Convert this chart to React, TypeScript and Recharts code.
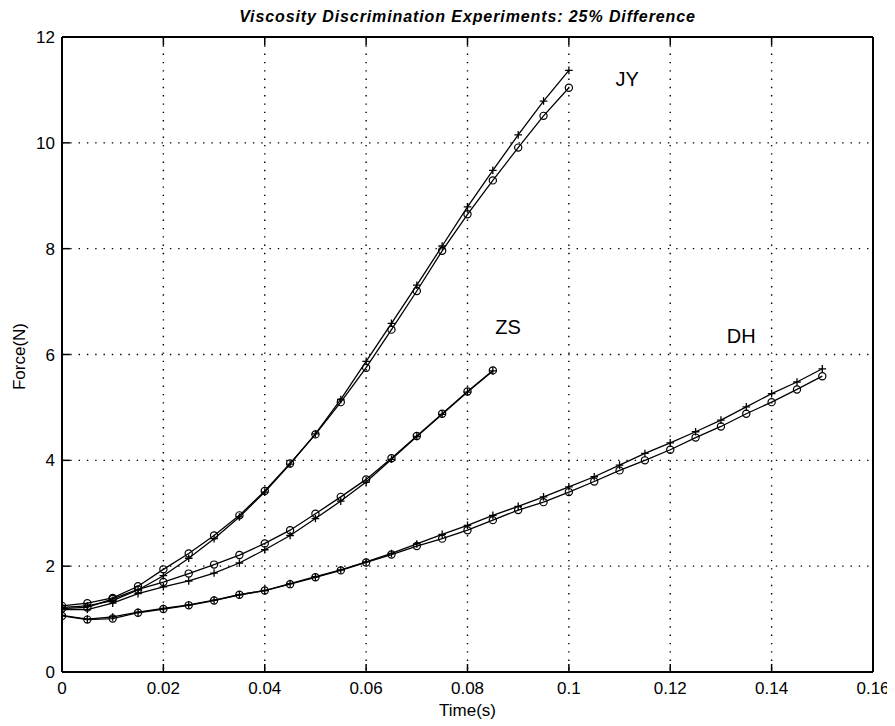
import React from 'react';
import { LineChart, Line, XAxis, YAxis, CartesianGrid, ReferenceDot } from 'recharts';

// time samples (s)
const TIME = [0, 0.005, 0.01, 0.015, 0.02, 0.025, 0.03, 0.035, 0.04, 0.045, 0.05, 0.055, 0.06, 0.065, 0.07, 0.075, 0.08, 0.085, 0.09, 0.095, 0.1, 0.105, 0.11, 0.115, 0.12, 0.125, 0.13, 0.135, 0.14, 0.145, 0.15];

// Force (N) per subject, "+" and "o" trials
const JY_PLUS = [1.22, 1.25, 1.35, 1.55, 1.82, 2.15, 2.52, 2.93, 3.40, 3.93, 4.50, 5.15, 5.87, 6.59, 7.31, 8.05, 8.79, 9.48, 10.15, 10.79, 11.37];
const JY_CIRCLE = [1.25, 1.30, 1.40, 1.62, 1.94, 2.24, 2.58, 2.96, 3.42, 3.94, 4.49, 5.10, 5.75, 6.47, 7.20, 7.96, 8.65, 9.29, 9.91, 10.51, 11.04];
const ZS_PLUS = [1.18, 1.18, 1.30, 1.48, 1.61, 1.72, 1.87, 2.06, 2.31, 2.58, 2.90, 3.23, 3.59, 4.02, 4.45, 4.87, 5.29, 5.69];
const ZS_CIRCLE = [1.20, 1.22, 1.38, 1.56, 1.70, 1.86, 2.03, 2.21, 2.43, 2.68, 2.99, 3.31, 3.64, 4.04, 4.46, 4.88, 5.30, 5.70];
const DH_PLUS = [1.07, 1.00, 1.04, 1.13, 1.20, 1.27, 1.36, 1.46, 1.54, 1.67, 1.80, 1.93, 2.08, 2.24, 2.42, 2.60, 2.77, 2.96, 3.13, 3.31, 3.50, 3.69, 3.91, 4.13, 4.33, 4.54, 4.76, 5.01, 5.26, 5.48, 5.73];
const DH_CIRCLE = [1.06, 0.99, 1.01, 1.12, 1.19, 1.26, 1.35, 1.46, 1.54, 1.66, 1.79, 1.92, 2.07, 2.22, 2.38, 2.52, 2.68, 2.87, 3.06, 3.21, 3.40, 3.60, 3.81, 4.00, 4.20, 4.43, 4.64, 4.88, 5.10, 5.34, 5.59];

const X_TICKS = [0, 0.02, 0.04, 0.06, 0.08, 0.1, 0.12, 0.14, 0.16];
const Y_TICKS = [0, 2, 4, 6, 8, 10, 12];

const SUBJECT_LABELS = [
  { text: 'JY', t: 0.1115, f: 11.2 },
  { text: 'ZS', t: 0.088, f: 6.53 },
  { text: 'DH', t: 0.134, f: 6.36 },
];

const TITLE = 'Viscosity Discrimination Experiments: 25% Difference';

const rows = TIME.map((t, i) => ({
  t,
  jyPlus: JY_PLUS[i],
  jyCircle: JY_CIRCLE[i],
  zsPlus: ZS_PLUS[i],
  zsCircle: ZS_CIRCLE[i],
  dhPlus: DH_PLUS[i],
  dhCircle: DH_CIRCLE[i],
}));

const FONT = '"Liberation Sans", Arial, Helvetica, sans-serif';

const circleDot = (props: any) => {
  const { cx, cy, index, dataKey } = props;
  if (cx == null || cy == null || props.value == null) return <g key={`${dataKey}-c-${index}`} />;
  return <circle key={`${dataKey}-c-${index}`} cx={cx} cy={cy} r={3.6} fill="none" stroke="#000" strokeWidth={1.2} />;
};

const plusDot = (props: any) => {
  const { cx, cy, index, dataKey } = props;
  if (cx == null || cy == null || props.value == null) return <g key={`${dataKey}-p-${index}`} />;
  const s = 3.8;
  return (
    <path
      key={`${dataKey}-p-${index}`}
      d={`M${cx - s},${cy}L${cx + s},${cy}M${cx},${cy - s}L${cx},${cy + s}`}
      stroke="#000"
      strokeWidth={1.3}
      fill="none"
    />
  );
};

const tickStyle = { fill: '#000', fontSize: 17, fontFamily: FONT };

export default function App() {
  return (
    <div style={{ position: 'relative', width: 887, height: 718, fontFamily: FONT, background: '#fff' }}>
      <LineChart
        width={887}
        height={718}
        data={rows}
        margin={{ top: 28, right: 21, left: 0, bottom: 4 }}
      >
        <CartesianGrid
          xAxisId="b"
          yAxisId="l"
          stroke="#000"
          strokeWidth={1.4}
          strokeDasharray="1.4 6.9"
        />
        <XAxis
          xAxisId="b"
          dataKey="t"
          type="number"
          domain={[0, 0.16]}
          ticks={X_TICKS}
          interval={0}
          height={50}
          tickSize={-8}
          tickMargin={18}
          axisLine={{ stroke: '#000', strokeWidth: 2 }}
          tickLine={{ stroke: '#000', strokeWidth: 1.5 }}
          tick={tickStyle}
          allowDataOverflow
        />
        <XAxis
          xAxisId="top"
          orientation="top"
          dataKey="t"
          type="number"
          domain={[0, 0.16]}
          ticks={X_TICKS}
          interval={0}
          height={1}
          tickSize={-8}
          tickMargin={0}
          tickFormatter={() => ''}
          axisLine={{ stroke: '#000', strokeWidth: 2 }}
          tickLine={{ stroke: '#000', strokeWidth: 1.5 }}
          label={{
            value: TITLE,
            position: 'top',
            offset: 14,
            fill: '#000',
            fontSize: 16,
            fontWeight: 'bold',
            fontStyle: 'italic',
            fontFamily: FONT,
            letterSpacing: 0.9,
          }}
        />
        <YAxis
          yAxisId="l"
          type="number"
          domain={[0, 12]}
          ticks={Y_TICKS}
          interval={0}
          width={54}
          tickSize={-8}
          tickMargin={15}
          axisLine={{ stroke: '#000', strokeWidth: 2 }}
          tickLine={{ stroke: '#000', strokeWidth: 1.5 }}
          tick={tickStyle}
        />
        <YAxis
          yAxisId="r"
          orientation="right"
          type="number"
          domain={[0, 12]}
          ticks={Y_TICKS}
          interval={0}
          width={1}
          tickSize={-8}
          tickMargin={0}
          tickFormatter={() => ''}
          axisLine={{ stroke: '#000', strokeWidth: 2 }}
          tickLine={{ stroke: '#000', strokeWidth: 1.5 }}
        />
        <Line xAxisId="b" yAxisId="l" dataKey="dhPlus" stroke="#000" strokeWidth={1.3} dot={plusDot} isAnimationActive={false} />
        <Line xAxisId="b" yAxisId="l" dataKey="dhCircle" stroke="#000" strokeWidth={1.3} dot={circleDot} isAnimationActive={false} />
        <Line xAxisId="b" yAxisId="l" dataKey="zsPlus" stroke="#000" strokeWidth={1.3} dot={plusDot} isAnimationActive={false} />
        <Line xAxisId="b" yAxisId="l" dataKey="zsCircle" stroke="#000" strokeWidth={1.3} dot={circleDot} isAnimationActive={false} />
        <Line xAxisId="b" yAxisId="l" dataKey="jyPlus" stroke="#000" strokeWidth={1.3} dot={plusDot} isAnimationActive={false} />
        <Line xAxisId="b" yAxisId="l" dataKey="jyCircle" stroke="#000" strokeWidth={1.3} dot={circleDot} isAnimationActive={false} />
        {SUBJECT_LABELS.map((s) => (
          <ReferenceDot
            key={s.text}
            xAxisId="b"
            yAxisId="l"
            x={s.t}
            y={s.f}
            r={0}
            fill="none"
            stroke="none"
            label={{ value: s.text, position: 'center', fill: '#000', fontSize: 20, fontFamily: FONT }}
          />
        ))}
      </LineChart>
      <div
        style={{
          position: 'absolute', left: 359.5, width: 200, top: 694, textAlign: 'center',
          fontSize: 17, lineHeight: '17px', color: '#000',
        }}
      >
        Time(s)
      </div>
      <div
        style={{
          position: 'absolute', left: 11 - 100, width: 200, top: 348 - 8.5, textAlign: 'center',
          fontSize: 17, lineHeight: '17px', color: '#000', transform: 'rotate(-90deg)', transformOrigin: 'center',
        }}
      >
        Force(N)
      </div>
    </div>
  );
}
